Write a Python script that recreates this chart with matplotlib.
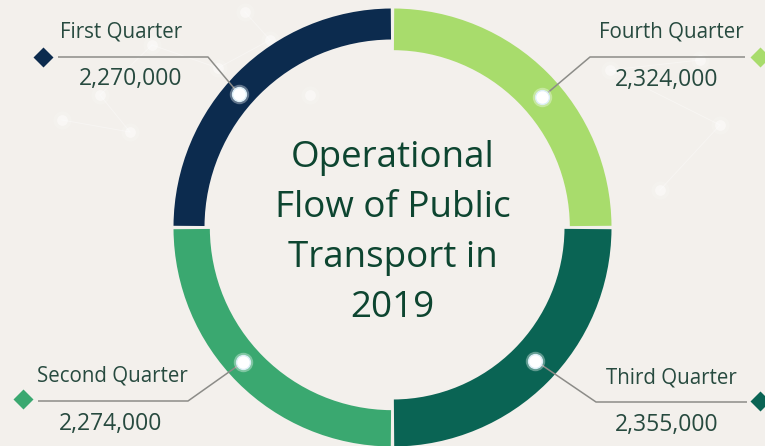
import matplotlib
matplotlib.use("Agg")
import matplotlib.pyplot as plt
from matplotlib.patches import Wedge
import numpy as np

# Data
quarters = ["First Quarter", "Second Quarter", "Third Quarter", "Fourth Quarter"]
passengers = [2270000, 2274000, 2355000, 2324000]
colors = ["#0c2b4e", "#3aa870", "#0a6454", "#a8dc6c"]
title = "Operational\nFlow of Public\nTransport in\n2019"

# Canvas in pixel units (y grows downward)
W, H = 765, 446
BG = "#f3f0ec"
TEXT = "#274a3f"
TITLE = "#0d4530"
LEADER = "#8c8c88"
FONT = "Open Sans"

fig = plt.figure(figsize=(W / 100, H / 100), dpi=100, facecolor=BG)
ax = fig.add_axes([0, 0, 1, 1])
ax.set_xlim(0, W)
ax.set_ylim(H, 0)
ax.set_aspect("equal")
ax.axis("off")
ax.set_facecolor(BG)

# Faint network decoration in the background
nodes = np.array([[152, 45], [100, 95], [130, 132], [62, 120], [218, 68], [310, 95],
                  [270, 40], [610, 70], [720, 125], [660, 190], [700, 60], [245, 12]])
links = [(0, 1), (1, 2), (0, 4), (4, 6), (2, 3), (7, 8), (8, 9), (7, 10), (6, 11)]
for a, b in links:
    ax.plot(nodes[[a, b], 0], nodes[[a, b], 1], color="white", lw=0.7, alpha=0.35, zorder=0)
ax.scatter(nodes[:, 0], nodes[:, 1], s=60, color="white", alpha=0.45, lw=0, zorder=0)
ax.scatter(nodes[:, 0], nodes[:, 1], s=170, color="white", alpha=0.15, lw=0, zorder=0)

# Ring geometry: equal quarters, thickness grows with the quarter's rank
cx, cy = 392.5, 227.5
R = 219
ranks = np.argsort(np.argsort(passengers))
thickness = 31 + ranks * 16 / 3
gap = 0.45  # degrees trimmed on each side of a segment

for i, (val, col, w) in enumerate(zip(passengers, colors, thickness)):
    start = 90 + 90 * i          # screen angle, counter-clockwise
    end = start + 90
    # y axis is inverted, so screen angles become negative data angles
    ax.add_patch(Wedge((cx, cy), R, -(end - gap), -(start + gap), width=w,
                       facecolor=col, edgecolor="none", zorder=2))

# Dots on the ring and leader lines to the labels
dot_angles = [139, 222, 317, 41]
elbows = [(208, 57), (188, 401), (596, 402), (590, 57)]
line_ends = [58, 38, 747, 745]
diamonds = [(43.5, 57), (23, 399), (760, 401), (760, 57)]
name_pos = [(121, 32), (112, 376), (671, 378), (671, 32)]
value_pos = [(131, 79), (111, 424), (667, 425), (667, 80)]

for i in range(4):
    r_mid = R - thickness[i] / 2
    a = np.deg2rad(dot_angles[i])
    dx, dy = cx + r_mid * np.cos(a), cy - r_mid * np.sin(a)
    ex, ey = elbows[i]
    ax.plot([dx, ex, line_ends[i]], [dy, ey, ey], color=LEADER, lw=1.1,
            solid_capstyle="butt", zorder=3)
    ax.plot(dx, dy, "o", ms=14, mfc="white", mec="none", alpha=0.35, zorder=4)
    ax.plot(dx, dy, "o", ms=10, mfc="white", mec="#dceef6", mew=1.0, zorder=5)
    ax.plot(*diamonds[i], marker="D", ms=10, color=colors[i], mec="none", zorder=5)
    ax.text(*name_pos[i], quarters[i], ha="center", va="center", fontsize=14.8,
            color=TEXT, family=FONT, zorder=6)
    ax.text(*value_pos[i], f"{passengers[i]:,}", ha="center", va="center",
            fontsize=16.5, color=TEXT, family=FONT, zorder=6)

ax.text(cx, 233, title, ha="center", va="center", fontsize=26.5, color=TITLE,
        family=FONT, linespacing=1.52, zorder=6)

fig.savefig("out.png", dpi=100, facecolor=BG)
